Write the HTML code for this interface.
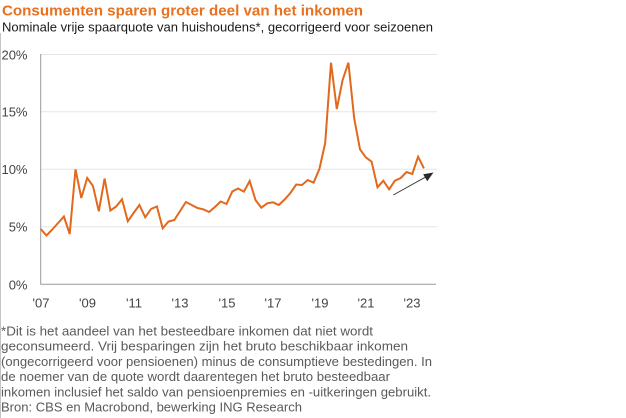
<!DOCTYPE html>
<html>
<head>
<meta charset="utf-8">
<style>
html,body{margin:0;padding:0;background:#fff;}
svg{display:block;}
text{font-family:"Liberation Sans",Arial,sans-serif;}
</style>
</head>
<body>
<svg width="626" height="418" viewBox="0 0 626 418" xmlns="http://www.w3.org/2000/svg">
<rect width="626" height="418" fill="#fff"/>
<line x1="0.5" y1="33" x2="0.5" y2="418" stroke="#c4c4c4" stroke-width="1"/>
<text x="2" y="15.5" font-size="15" font-weight="bold" fill="#e8711f" textLength="361" lengthAdjust="spacingAndGlyphs">Consumenten sparen groter deel van het inkomen</text>
<text x="2" y="31.5" font-size="13" fill="#1a1a1a" textLength="431" lengthAdjust="spacingAndGlyphs">Nominale vrije spaarquote van huishoudens*, gecorrigeerd voor seizoenen</text>

<g stroke="#e5e5e5" stroke-width="1">
<line x1="41" y1="54.5" x2="437" y2="54.5"/>
<line x1="41" y1="111.7" x2="437" y2="111.7"/>
<line x1="41" y1="169.2" x2="437" y2="169.2"/>
<line x1="41" y1="226.7" x2="437" y2="226.7"/>
</g>
<line x1="40.7" y1="54" x2="40.7" y2="284.5" stroke="#9a9a9a" stroke-width="1"/>
<line x1="40.5" y1="284.3" x2="436" y2="284.3" stroke="#9a9a9a" stroke-width="1"/>

<g font-size="13" fill="#444" text-anchor="end">
<text x="27.5" y="59.5">20%</text>
<text x="27.5" y="116.7">15%</text>
<text x="27.5" y="174.2">10%</text>
<text x="27.5" y="231.7">5%</text>
<text x="27.5" y="289.3">0%</text>
</g>
<g font-size="13" fill="#444" text-anchor="middle">
<text x="41" y="307.3">'07</text>
<text x="87.5" y="307.3">'09</text>
<text x="134" y="307.3">'11</text>
<text x="180" y="307.3">'13</text>
<text x="227" y="307.3">'15</text>
<text x="273" y="307.3">'17</text>
<text x="320" y="307.3">'19</text>
<text x="366" y="307.3">'21</text>
<text x="412" y="307.3">'23</text>
</g>

<polyline fill="none" stroke="#e2681c" stroke-width="2" stroke-linejoin="miter" stroke-miterlimit="4" points="
40.7,229 46.5,235.5 52.3,229.5 58.1,223 63.9,216.5 69.7,234 75.5,169.3 81.3,198 87.2,178 93,186
98.8,211.3 104.6,178.5 110.4,210.5 116.2,206.5 122,199.3 127.8,221.3 133.6,213 139.4,205 145.2,217.3 151,209
156.9,206.5 162.7,228.3 168.5,221.5 174.3,220 180.1,211 185.9,202 191.7,205 197.5,208 203.3,209.3 209.1,212
214.9,207 220.7,201.5 226.5,204 232.3,191.5 238.1,188.5 243.9,191.7 249.7,181 255.5,200 261.3,207.7 267.2,203.3
273,202.3 278.8,205 284.6,199.5 290.4,193 296.2,184.5 302,185 307.8,180 313.6,182.7 319.4,169 325.2,143
331,62.7 336.8,109 342.6,80 348.4,62.7 354.2,118.3 360,149.3 365.8,157.3 371.6,161.7 377.5,187.3 383.3,180.7
389.1,189.3 394.9,180.7 400.7,178 406.5,172 412.3,174 418.1,156.7 423.9,168.3"/>

<line x1="393.3" y1="195" x2="426" y2="176.8" stroke="#3a3a3a" stroke-width="1"/>
<polygon points="433.5,172.5 423.2,174.2 427.2,181.2" fill="#2a2a2a"/>

<g font-size="13" fill="#5a5a5a">
<text x="1" y="335.5" textLength="372" lengthAdjust="spacingAndGlyphs">*Dit is het aandeel van het besteedbare inkomen dat niet wordt</text>
<text x="1" y="350.7" textLength="407" lengthAdjust="spacingAndGlyphs">geconsumeerd. Vrij besparingen zijn het bruto beschikbaar inkomen</text>
<text x="1" y="365.9" textLength="431" lengthAdjust="spacingAndGlyphs">(ongecorrigeerd voor pensioenen) minus  de consumptieve bestedingen. In</text>
<text x="1" y="381.1" textLength="389" lengthAdjust="spacingAndGlyphs">de noemer van de quote wordt daarentegen   het bruto besteedbaar</text>
<text x="1" y="396.3" textLength="430" lengthAdjust="spacingAndGlyphs">inkomen inclusief het saldo van pensioenpremies en -uitkeringen gebruikt.</text>
<text x="1" y="411.5" textLength="301" lengthAdjust="spacingAndGlyphs">Bron: CBS en Macrobond, bewerking ING Research</text>
</g>
</svg>
</body>
</html>
